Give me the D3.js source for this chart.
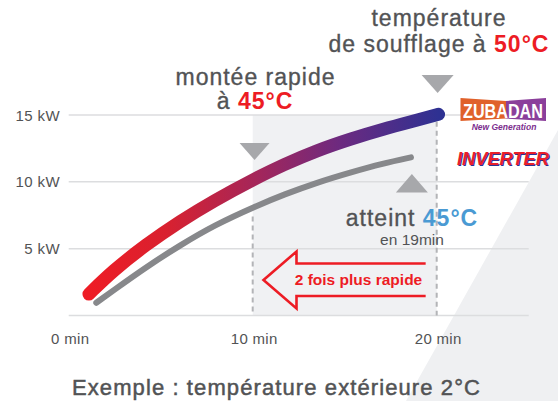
<!DOCTYPE html>
<html><head><meta charset="utf-8">
<script src="https://cdn.jsdelivr.net/npm/d3@7"></script>
<style>
html,body{margin:0;padding:0;background:#fff;}
svg{display:block;font-family:"Liberation Sans",Arial,Helvetica,sans-serif;}
</style></head>
<body><svg id="c" width="558" height="401"></svg>
<script>
// ---- data ----
const timeTicks = [0, 10, 20];
const kwTicks = [0, 5, 10, 15];
const kwLabels = [5, 10, 15];
const zubadanMin = [1.1, 2.4, 4.2, 6.05, 7.9, 10.0, 11.7, 13.5, 15.3, 17.1, 18.9, 20.1];
const zubadanKW  = [1.6, 3.35, 5.3, 7.05, 8.6, 10.15, 11.3, 12.35, 13.2, 13.95, 14.6, 15.05];
const conventionalMin = [1.5, 2.4, 4.2, 6.05, 7.9, 10.2, 11.7, 13.5, 15.3, 17.1, 18.6];
const conventionalKW  = [0.95, 1.85, 3.62, 5.25, 6.75, 8.2, 9.05, 9.95, 10.7, 11.38, 11.83];

const svg = d3.select("#c");
const x = d3.scaleLinear().domain([0, 25]).range([68.7, 528.7]);
const y = d3.scaleLinear().domain([0, 15]).range([315.5, 115]);
const grey = "#525355", red = "#ed1c24";

// background diagonal
svg.append("path").attr("d", "M558,130 L558,401 L406,401 Z").attr("fill", "#eff0f2");

// shaded panel 10-20 min
svg.append("rect").attr("x", x(10)).attr("y", y(15))
  .attr("width", x(20) - x(10)).attr("height", y(0) - y(15)).attr("fill", "#f0f1f3");

// gridlines
svg.append("g").selectAll("line").data(kwTicks).join("line")
  .attr("x1", x(0)).attr("x2", x(25)).attr("y1", d => y(d)).attr("y2", d => y(d))
  .attr("stroke", "#dcdddf").attr("stroke-width", 1.5);

// y labels
svg.append("g").selectAll("text").data(kwLabels).join("text")
  .attr("x", 60).attr("y", d => y(d) + 5.5).attr("text-anchor", "end")
  .attr("font-size", 15).attr("letter-spacing", 0.4).attr("fill", grey)
  .text(d => d + " kW");

// x labels
svg.append("g").selectAll("text").data(timeTicks).join("text")
  .attr("x", d => x(d) + 1.5).attr("y", 343.5).attr("text-anchor", "middle")
  .attr("font-size", 15).attr("letter-spacing", 0.3).attr("fill", grey)
  .text(d => d + " min");

// dashed verticals
const dash = [[10, 7.4], [20, 14.5]];
svg.append("g").selectAll("line").data(dash).join("line")
  .attr("x1", d => x(d[0])).attr("x2", d => x(d[0]))
  .attr("y1", d => y(d[1])).attr("y2", y(0))
  .attr("stroke", "#b3b4b7").attr("stroke-width", 2).attr("stroke-dasharray", "5,4");

// gradient
const defs = svg.append("defs");
const grad = defs.append("linearGradient").attr("id", "g1")
  .attr("gradientUnits", "userSpaceOnUse")
  .attr("x1", x(1.1)).attr("x2", x(20.1)).attr("y1", 0).attr("y2", 0);
[["0%", "#ee1c25"], ["22%", "#d9212f"], ["48%", "#a4265a"], ["72%", "#6c2a80"], ["100%", "#2e3192"]]
  .forEach(s => grad.append("stop").attr("offset", s[0]).attr("stop-color", s[1]));

const line = d3.line().x(d => x(d[0])).y(d => y(d[1])).curve(d3.curveBasis);
svg.append("path").datum(conventionalMin.map((m, i) => [m, conventionalKW[i]]))
  .attr("d", line).attr("fill", "none").attr("stroke", "#87888b")
  .attr("stroke-width", 6).attr("stroke-linecap", "round");
svg.append("path").datum(zubadanMin.map((m, i) => [m, zubadanKW[i]]))
  .attr("d", line).attr("fill", "none").attr("stroke", "url(#g1)")
  .attr("stroke-width", 13).attr("stroke-linecap", "round");

// triangles
const triCol = "#a7a8ab";
function tri(cx, yTop, w, h, down) {
  const p = down
    ? `M${cx - w / 2},${yTop} L${cx + w / 2},${yTop} L${cx},${yTop + h} Z`
    : `M${cx - w / 2},${yTop + h} L${cx + w / 2},${yTop + h} L${cx},${yTop} Z`;
  svg.append("path").attr("d", p).attr("fill", triCol);
}
tri(x(10.1), 143, 30, 17, true);
tri(x(20.05), 75, 32, 18, true);
tri(x(18.65), 174, 32, 18.5, false);

// annotation texts
function label(tx, ty, parts, size) {
  const t = svg.append("text").attr("x", tx).attr("y", ty).attr("text-anchor", "middle")
    .attr("font-size", size).attr("letter-spacing", 1);
  parts.forEach(p => t.append("tspan").attr("fill", p.c)
    .attr("stroke", p.b ? null : p.c).attr("stroke-width", p.b ? null : 0.35)
    .attr("font-weight", p.b ? "bold" : "normal").text(p.t));
}
label(255.5, 85, [{t: "montée rapide", c: grey}], 23);
label(255, 108.5, [{t: "à ", c: grey}, {t: "45°C", c: red, b: 1}], 23);
label(439, 26, [{t: "température", c: grey}], 23);
label(439, 52, [{t: "de soufflage à ", c: grey}, {t: "50°C", c: red, b: 1}], 23);
label(412, 226, [{t: "atteint ", c: grey}, {t: "45°C", c: "#4a9ad3", b: 1}], 23);
svg.append("text").attr("x", 412).attr("y", 245).attr("text-anchor", "middle")
  .attr("font-size", 15.5).attr("fill", grey).text("en 19min");

// arrow
svg.append("path")
  .attr("d", `M${x(19.4)},263.5 L296.5,263.5 L296.5,251.5 L263.5,280 L296.5,308.5 L296.5,296 L${x(19.4)},296`)
  .attr("fill", "none").attr("stroke", red).attr("stroke-width", 2.6).attr("stroke-linejoin", "miter");
svg.append("text").attr("x", 358.5).attr("y", 284.5).attr("text-anchor", "middle")
  .attr("font-size", 15.5).attr("font-weight", "bold").attr("fill", red).text("2 fois plus rapide");

// bottom caption
svg.append("text").attr("x", 276.5).attr("y", 395).attr("text-anchor", "middle")
  .attr("font-size", 22).attr("letter-spacing", 1.1).attr("fill", grey)
  .attr("stroke", grey).attr("stroke-width", 0.5)
  .text("Exemple : température extérieure 2°C");

// ZUBADAN logo
const lg = svg.append("g");
lg.append("path").attr("d", "M460.5,98 L506,101 L506,118.5 L460.5,121 Z").attr("fill", "#e0612b");
lg.append("path").attr("d", "M506,101 L546,98 L546,121 L506,118.5 Z").attr("fill", "#8b3f9b");
const zt = lg.append("text").attr("font-family", "'Liberation Sans Narrow','Arial Narrow',sans-serif")
  .attr("font-size", 20).attr("font-weight", "bold").attr("fill", "#fff").text("ZUBADAN");
const zw = zt.node().getComputedTextLength() || 80;
zt.attr("transform", `translate(463,118) scale(${80 / zw},1)`);
lg.append("text").attr("x", 504).attr("y", 129.5).attr("text-anchor", "middle")
  .attr("font-size", 8.5).attr("font-weight", "bold").attr("font-style", "italic").attr("fill", "#7b2d8e")
  .text("New Generation");
// INVERTER
function inv(dx, dy, col) {
  const t = svg.append("text").attr("font-size", 19).attr("font-weight", "bold")
    .attr("font-style", "italic").attr("fill", col).text("INVERTER");
  const w = t.node().getComputedTextLength() || 92;
  t.attr("transform", `translate(${457 + dx},${164.5 + dy}) scale(${92 / w},1)`);
}
inv(1, 1, "#2e3192");
inv(0, 0, "#e8202a");
</script></body></html>
